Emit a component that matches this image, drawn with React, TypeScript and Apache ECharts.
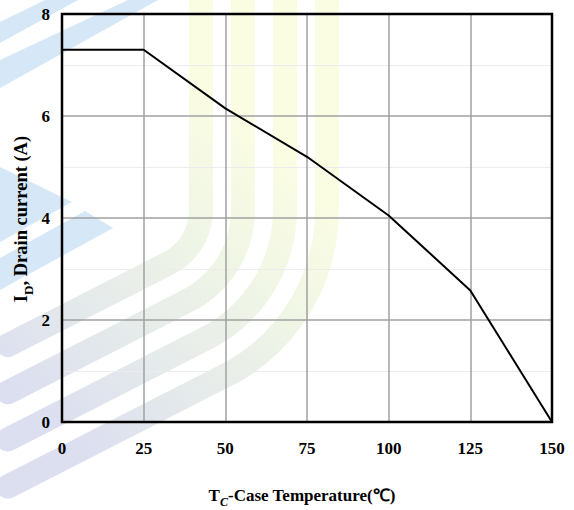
import React, { useEffect, useRef } from "react";
import * as echarts from "echarts";

// ---- data ----
const caseTemps = [0, 25, 50, 75, 100, 125, 150];
const drainCurrent = [7.3, 7.3, 6.15, 5.2, 4.05, 2.58, 0];

const X_MIN = 0;
const X_MAX = 150;
const X_STEP = 25;
const Y_MIN = 0;
const Y_MAX = 8;
const Y_STEP = 2;

const FONT = '"Liberation Serif", "Times New Roman", serif';

// ---- decorative watermark helpers ----
function bandPoints(xc: number, cx: number, cy: number, thetaDeg: number, endX: number) {
  const R = xc - cx;
  const pts: number[][] = [[xc, -20], [xc, cy]];
  const turn = 90 - thetaDeg;
  for (let a = 5; a <= turn; a += 5) {
    const r = (a * Math.PI) / 180;
    pts.push([cx + R * Math.cos(r), cy + R * Math.sin(r)]);
  }
  const rEnd = (turn * Math.PI) / 180;
  const ex = cx + R * Math.cos(rEnd);
  const ey = cy + R * Math.sin(rEnd);
  const slope = Math.tan((thetaDeg * Math.PI) / 180);
  pts.push([endX, ey + (ex - endX) * slope]);
  return pts;
}

function watermark() {
  const grad = new echarts.graphic.LinearGradient(
    300,
    170,
    60,
    430,
    [
      { offset: 0, color: "#fbfde3" },
      { offset: 0.35, color: "#eff5e6" },
      { offset: 1, color: "#dbdff0" },
    ],
    true
  );
  const bands = [201, 243, 285, 327].map((xc) => ({
    type: "polyline",
    z: -10,
    silent: true,
    shape: { points: bandPoints(xc, 141, 210, 27, 8) },
    style: { stroke: grad, lineWidth: 24, fill: "none", lineCap: "round", lineJoin: "round" },
  }));
  const blue = "#d6e7f8";
  const stripes = [
    [[0, 22], [45, 0], [78, 0], [0, 43]],
    [[0, 60], [128, 0], [158, 0], [0, 88]],
    [[0, 167], [72, 202], [0, 242]],
    [[0, 258], [85, 211], [113, 228], [0, 290]],
  ].map((p) => ({
    type: "polygon",
    z: -10,
    silent: true,
    shape: { points: p },
    style: { fill: blue },
  }));
  return [...stripes, ...bands];
}

export default function App() {
  const ref = useRef<HTMLDivElement>(null);

  useEffect(() => {
    if (!ref.current) return;
    const chart = echarts.init(ref.current, undefined, { renderer: "svg" });
    const labelStyle = { fontFamily: FONT, fontWeight: "bold", fontSize: 17, color: "#000" };

    chart.setOption({
      animation: false,
      backgroundColor: "#fff",
      grid: {
        left: 62,
        right: 22,
        top: 14,
        bottom: 88,
        show: true,
        borderColor: "#000",
        borderWidth: 2.5,
        backgroundColor: "transparent",
        z: 3,
      },
      xAxis: {
        type: "value",
        min: X_MIN,
        max: X_MAX,
        interval: X_STEP,
        axisLine: { show: false },
        axisTick: { show: false },
        axisLabel: { ...labelStyle, margin: 18 },
        splitLine: {
          show: true,
          showMinLine: false,
          showMaxLine: false,
          lineStyle: { color: "#a0a0a0", width: 1.5 },
        },
      },
      yAxis: {
        type: "value",
        min: Y_MIN,
        max: Y_MAX,
        interval: Y_STEP,
        axisLine: { show: false },
        axisTick: { show: false },
        axisLabel: { ...labelStyle, margin: 12 },
        splitLine: {
          show: true,
          showMinLine: false,
          showMaxLine: false,
          lineStyle: { color: "#a0a0a0", width: 1.5 },
        },
        minorTick: { show: false, splitNumber: 2 },
        minorSplitLine: { show: true, lineStyle: { color: "#ececec", width: 1.2 } },
      },
      series: [
        {
          type: "line",
          data: caseTemps.map((t, i) => [t, drainCurrent[i]]),
          showSymbol: false,
          symbol: "none",
          lineStyle: { color: "#000", width: 2 },
          z: 5,
        },
      ],
      graphic: [
        ...watermark(),
        {
          type: "text",
          x: 302,
          y: 497,
          silent: true,
          style: {
            text: "{a|T}{s|C}{a|-Case Temperature(℃)}",
            textAlign: "center",
            textVerticalAlign: "middle",
            rich: {
              a: { fontFamily: FONT, fontWeight: "bold", fontSize: 17, fill: "#000", verticalAlign: "bottom", padding: [0, 0, 4, 0] },
              s: { fontFamily: FONT, fontWeight: "bold", fontStyle: "italic", fontSize: 12, fill: "#000", verticalAlign: "bottom" },
            },
          },
        },
        {
          type: "text",
          x: 23,
          y: 219,
          rotation: Math.PI / 2,
          silent: true,
          style: {
            text: "{a|I}{s|D}{a|, Drain current (A)}",
            textAlign: "center",
            textVerticalAlign: "middle",
            rich: {
              a: { fontFamily: FONT, fontWeight: "bold", fontSize: 18.5, fill: "#000", verticalAlign: "bottom", padding: [0, 0, 4, 0] },
              s: { fontFamily: FONT, fontWeight: "bold", fontSize: 13, fill: "#000", verticalAlign: "bottom" },
            },
          },
        },
      ],
    });

    return () => chart.dispose();
  }, []);

  return <div ref={ref} style={{ width: 574, height: 510, position: "absolute", left: 0, top: 0 }} />;
}
